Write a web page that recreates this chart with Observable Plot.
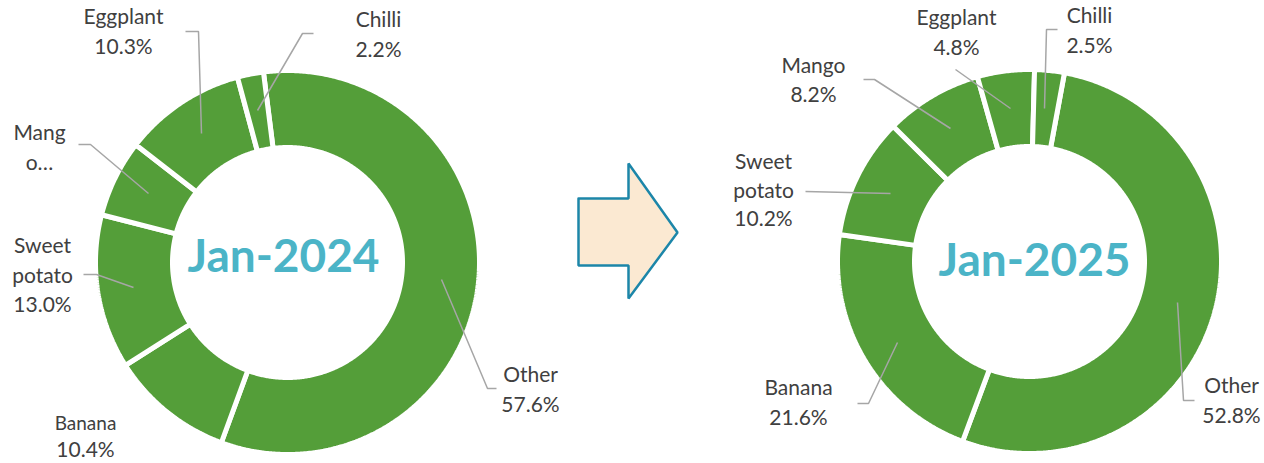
<!DOCTYPE html>
<html><head><meta charset="utf-8">
<script src="https://cdn.jsdelivr.net/npm/d3@7"></script>
<script src="https://cdn.jsdelivr.net/npm/@observablehq/plot@0.6"></script>
<style>html,body{margin:0;padding:0;background:#fff;overflow:hidden}</style>
</head><body><div id="chart"></div>
<script>
// ---- data ----
const categories = ["Other", "Banana", "Sweet potato", "Mango", "Eggplant", "Chilli"];
const share2024 = [57.6, 10.4, 13.0, 6.5, 10.3, 2.2];
const share2025 = [52.8, 21.6, 10.2, 8.2, 4.8, 2.5];
const periods = ["Jan-2024", "Jan-2025"];
const labelNames2024 = ["Other", "Banana", "Sweet\npotato", "Mang\no…", "Eggplant", "Chilli"];
const labelNames2025 = ["Other", "Banana", "Sweet\npotato", "Mango", "Eggplant", "Chilli"];
const showPct2024 = [true, true, true, false, true, true];
const showPct2025 = [true, true, true, true, true, true];

// ---- layout ----
const W = 1264, H = 463;
const GREEN = "#549E39", TEXT = "#404040", LEADER = "#A6A6A6", TITLE = "#4BB4C7";
const R_OUT = 192, R_IN = 115;
const donuts = [
  { cx: 287, cy: 262, start: -7.2, shares: share2024, names: labelNames2024, showPct: showPct2024,
    title: periods[0], tx: 283, ty: 257,
    // label anchor: [x, first line center y, line spacing, first-line font size]
    labelPos: [[530, 375, 30, 21], [85, 423, 27, 19], [42, 246, 29.5, 21], [39, 133, 30, 21], [123, 17, 30, 21], [378, 20, 30, 21]],
    leaders: [
      [[441, 279], [487, 388], [496, 388]],
      null,
      [[83, 274], [96, 274], [133, 287]],
      [[78, 144], [90, 144], [148, 193]],
      [[185, 31], [198, 31], [201, 133]],
      [[313, 33], [302, 33], [257, 110]]
    ] },
  { cx: 1029, cy: 261, start: 10.5, shares: share2025, names: labelNames2025, showPct: showPct2025,
    title: periods[1], tx: 1034, ty: 261,
    labelPos: [[1231, 386, 30, 21], [798, 388, 30, 21], [763, 162, 28.5, 21], [813, 66, 29, 21], [956, 18, 30, 21], [1089, 16, 29.5, 21]],
    leaders: [
      [[1194, 400], [1183, 400], [1177, 302]],
      [[857, 403], [868, 403], [897, 342]],
      [[805, 191], [890, 193]],
      [[863, 79], [874, 79], [950, 128]],
      [[955, 69], [1010, 108]],
      [[1057, 29], [1046, 29], [1044, 108]]
    ] }
];
const arrowShape = [[578, 198], [628, 198], [628, 163], [677, 232], [628, 298], [628, 265], [578, 265], [578, 198]];

// ---- build mark data ----
const slicePts = [], labelRows = [], leaderPts = [], titles = [];
donuts.forEach((d, di) => {
  const total = d3.sum(d.shares);
  let cum = 0;
  d.shares.forEach((v, i) => {
    const a0 = d.start + 360 * cum / total;
    cum += v;
    const a1 = d.start + 360 * cum / total;
    const id = di + "-" + i;
    const n = Math.max(4, Math.ceil((a1 - a0) / 0.5));
    const ring = [];
    for (let k = 0; k <= n; k++) ring.push([a0 + (a1 - a0) * k / n, R_OUT]);
    for (let k = n; k >= 0; k--) ring.push([a0 + (a1 - a0) * k / n, R_IN]);
    ring.push(ring[0]);
    ring.forEach(([a, r]) => {
      const t = a * Math.PI / 180;
      slicePts.push({ id, x: d.cx + r * Math.sin(t), y: d.cy - r * Math.cos(t) });
    });
    // labels
    const [lx, ly, sp, fs] = d.labelPos[i];
    const lines = d.names[i].split("\n");
    if (d.showPct[i]) lines.push(v.toFixed(1) + "%");
    lines.forEach((t, k) => labelRows.push({ x: lx, y: ly + k * sp, text: t, size: k === 0 ? fs : 21 }));
    const ld = d.leaders[i];
    if (ld) ld.forEach(([x, y]) => leaderPts.push({ id, x, y }));
  });
  titles.push({ x: d.tx, y: d.ty, text: d.title });
});
const arrowPts = arrowShape.map(([x, y]) => ({ x, y }));

const chart = Plot.plot({
  width: W, height: H,
  margin: 0,
  x: { domain: [0, W], range: [0, W], axis: null },
  y: { domain: [0, H], range: [0, H], axis: null },
  style: { fontFamily: "Lato, 'Noto Sans', sans-serif", background: "#fff" },
  marks: [
    Plot.line(slicePts, { x: "x", y: "y", z: "id", fill: GREEN, stroke: "white", strokeWidth: 5, strokeLinejoin: "miter" }),
    Plot.line(arrowPts, { x: "x", y: "y", fill: "#FBE9D2", stroke: "#1C86A9", strokeWidth: 2.5, strokeLinejoin: "miter" }),
    Plot.line(leaderPts, { x: "x", y: "y", z: "id", stroke: LEADER, strokeWidth: 1.5, strokeLinejoin: "miter", strokeLinecap: "butt" }),
    Plot.text(labelRows, { x: "x", y: "y", text: "text", fontSize: "size", fill: TEXT, textAnchor: "middle", lineAnchor: "middle", fontFamily: "Lato" }),
    Plot.text(titles, { x: "x", y: "y", text: "text", fontSize: 46, fontWeight: "bold", fill: TITLE, textAnchor: "middle", lineAnchor: "middle", fontFamily: "Lato" })
  ]
});
document.getElementById("chart").appendChild(chart);
</script>
</body></html>
